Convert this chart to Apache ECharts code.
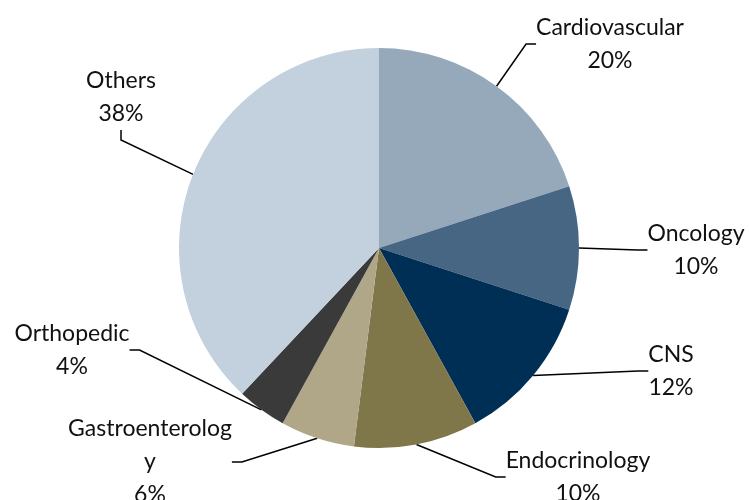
<!DOCTYPE html>
<html>
<head>
<meta charset="utf-8">
<script src="https://cdn.jsdelivr.net/npm/echarts@6/dist/echarts.min.js"></script>
<style>
  html, body { margin: 0; padding: 0; background: #fff; }
  #chart { width: 749px; height: 500px; }
</style>
</head>
<body>
<div id="chart"></div>
<script>
// therapy areas, clockwise from 12 o'clock
const areas = ['Cardiovascular', 'Oncology', 'CNS', 'Endocrinology', 'Gastroenterology', 'Orthopedic', 'Others']
const shares = [20, 10, 12, 10, 6, 4, 38]
const colors = ['#95A9BA', '#466684', '#002F56', '#7F7649', '#AFA787', '#3A3A3A', '#C3D1DE']

// where each label box sits (center), like the hand-placed excel labels
const labelSpots = [
  [610, 44], [696, 250], [671, 371], [578, 477], [150, 462], [72, 350], [121, 97]
]

let chartDom = document.getElementById('chart')
let myChart = echarts.init(chartDom)
let option

option = {
  animation: false,
  color: colors,
  series: [
    {
      type: 'pie',
      center: [379, 248],
      radius: 200,
      startAngle: 90,
      clockwise: true,
      itemStyle: { borderWidth: 0 },
      emphasis: { disabled: true },
      label: {
        show: true,
        position: 'outside',
        color: '#111',
        fontFamily: 'Lato',
        fontSize: 23,
        lineHeight: 33,
        align: 'center',
        formatter: function (p) {
          let name = p.name
          // excel wrapped the long one
          if (name.length > 15) name = name.slice(0, 15) + '\n' + name.slice(15)
          return name + '\n' + p.value + '%'
        }
      },
      labelLine: {
        show: true,
        length: 10,
        length2: 10,
        lineStyle: { color: '#000', width: 1.5 }
      },
      labelLayout: function (params) {
        const spot = labelSpots[params.dataIndex]
        return {
          x: spot[0],
          y: spot[1],
          align: 'center',
          verticalAlign: 'middle'
        }
      },
      data: areas.map(function (a, i) {
        return { name: a, value: shares[i] }
      })
    }
  ]
}
option && myChart.setOption(option)
</script>
</body>
</html>
